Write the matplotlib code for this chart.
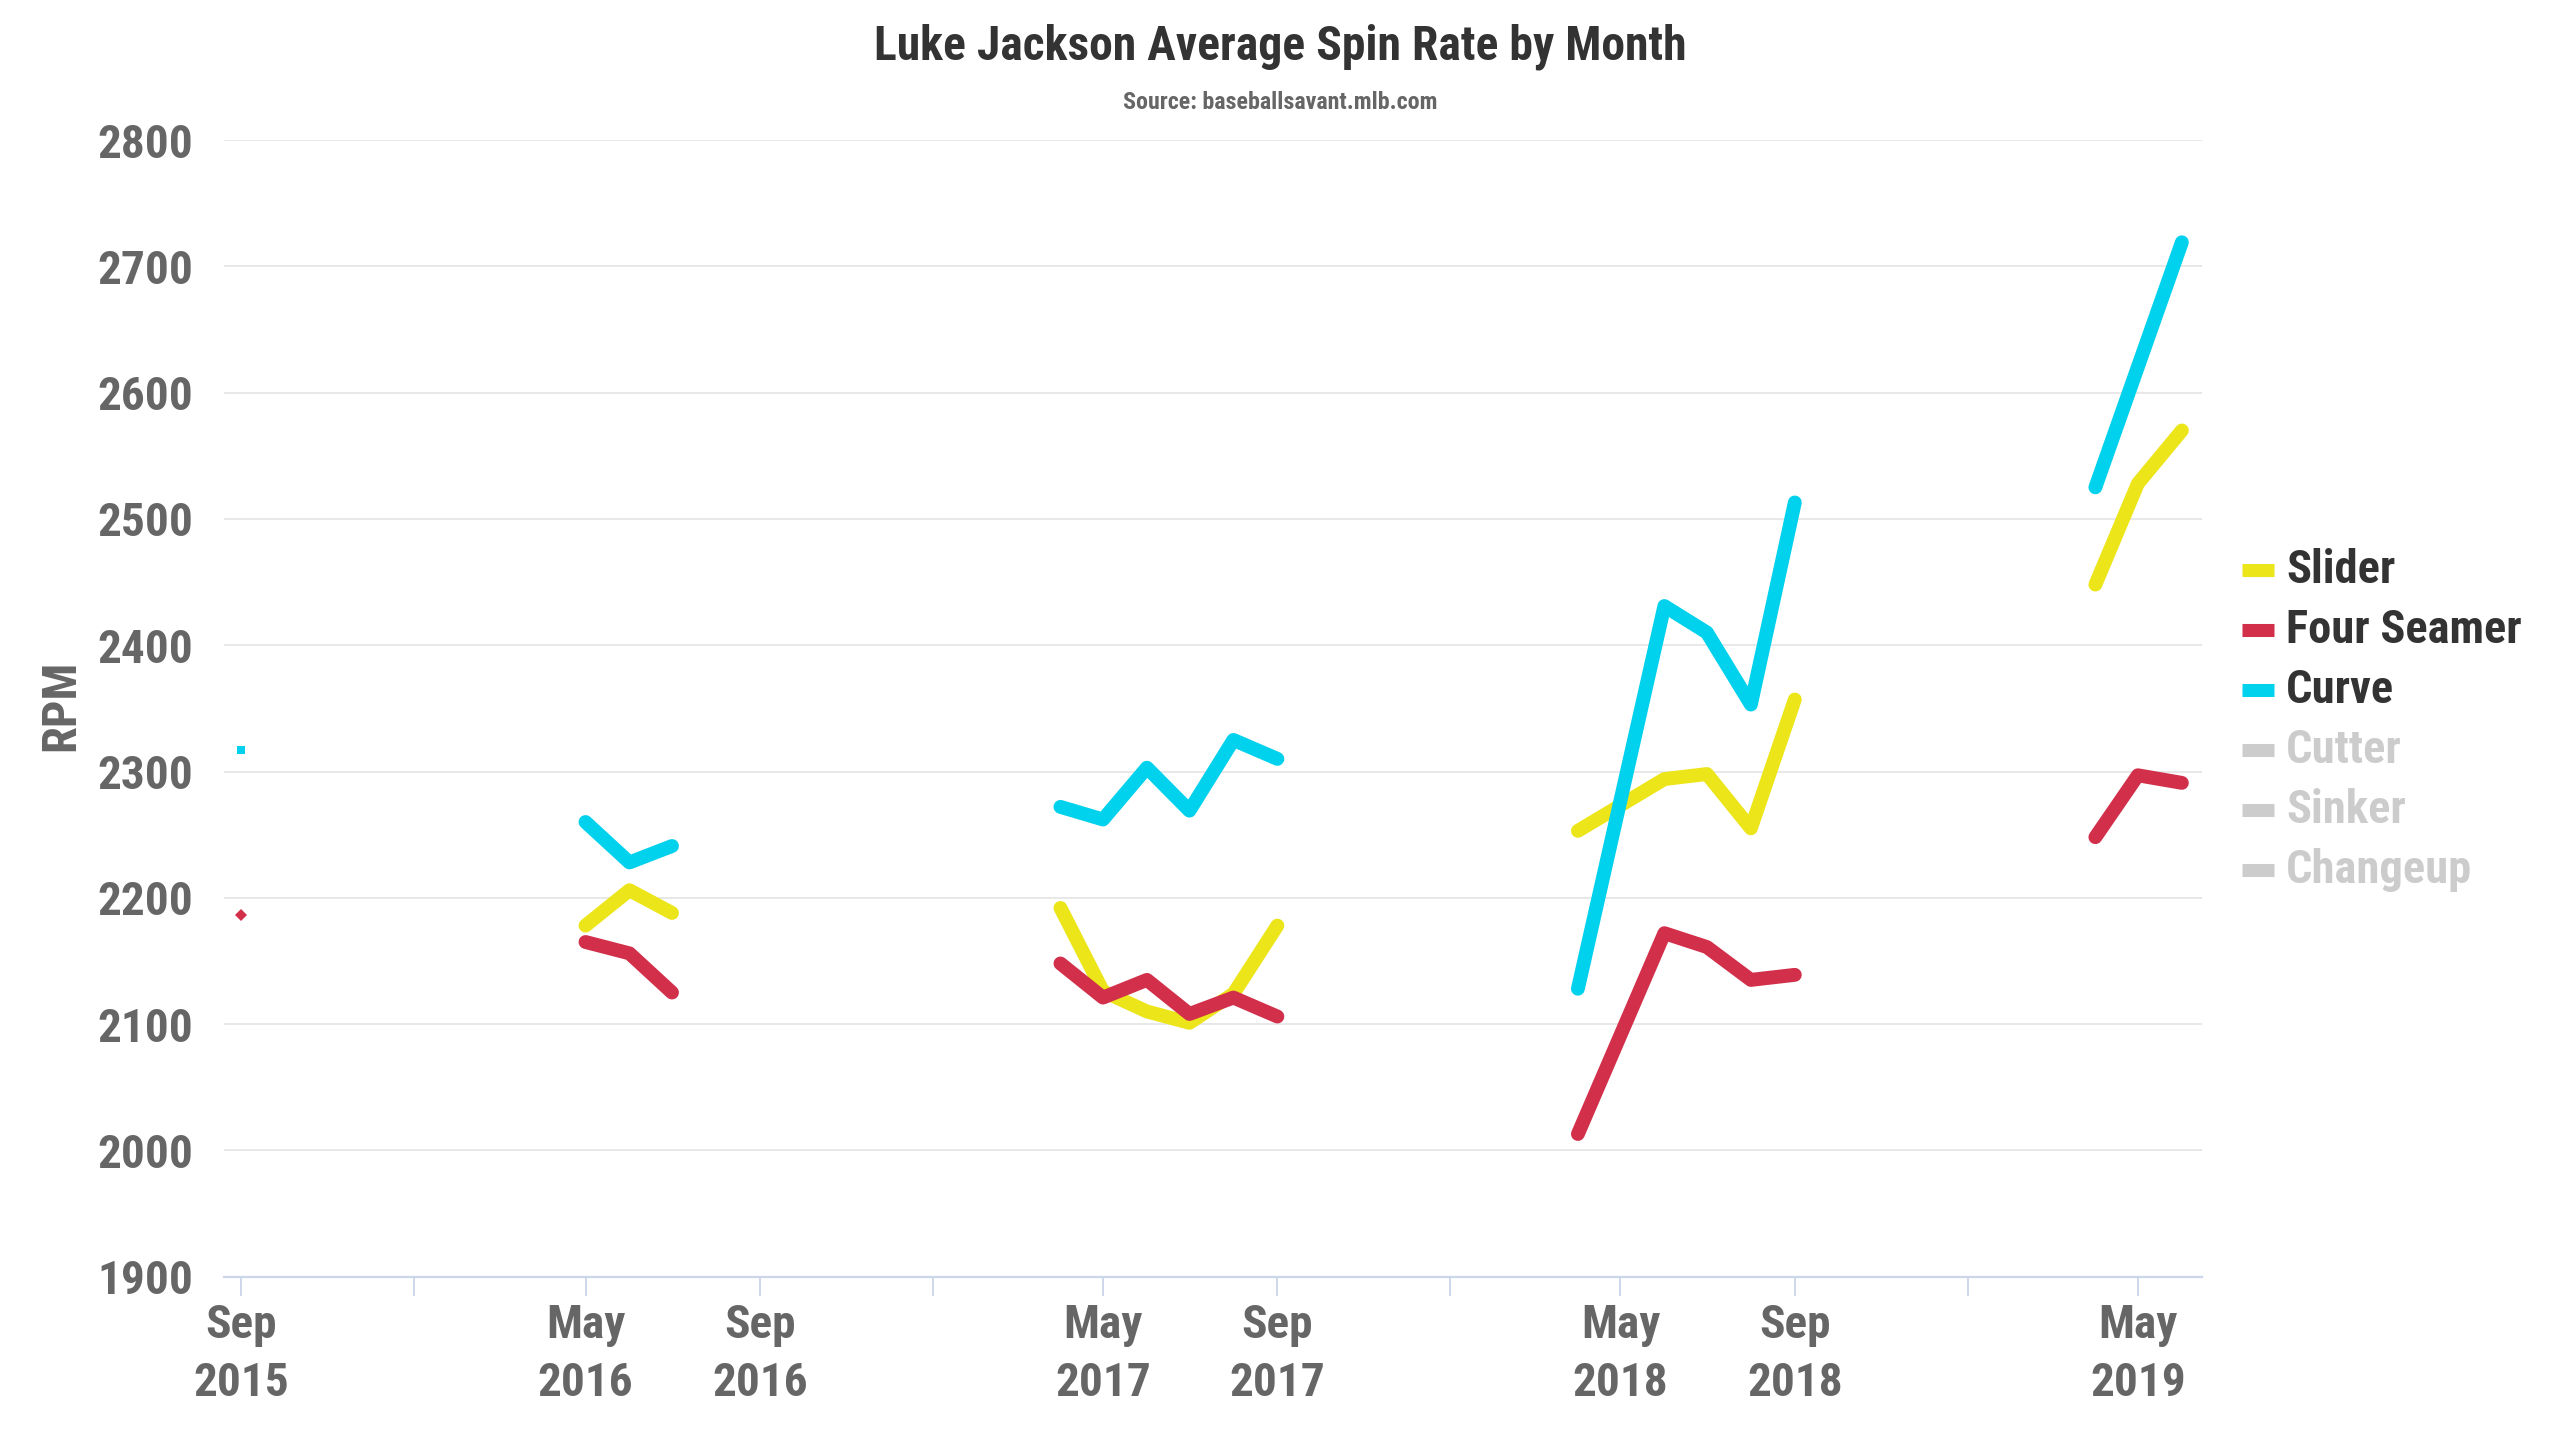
import pandas as pd
import numpy as np
import matplotlib
matplotlib.use("Agg")
import matplotlib.pyplot as plt
from matplotlib.lines import Line2D

# -----------------------------------------------
# Luke Jackson average spin rate by month
# -----------------------------------------------

curve_months = ["2015-09",
                "2016-05", "2016-06", "2016-07",
                "2017-04", "2017-05", "2017-06", "2017-07", "2017-08", "2017-09",
                "2018-04", "2018-06", "2018-07", "2018-08", "2018-09",
                "2019-04", "2019-06"]
curve_rpm = [2317,
             2260, 2228, 2241,
             2272, 2262, 2303, 2269, 2325, 2310,
             2128, 2431, 2410, 2353, 2513,
             2525, 2719]

slider_months = ["2016-05", "2016-06", "2016-07",
                 "2017-04", "2017-05", "2017-06", "2017-07", "2017-08", "2017-09",
                 "2018-04", "2018-06", "2018-07", "2018-08", "2018-09",
                 "2019-04", "2019-05", "2019-06"]
slider_rpm = [2178, 2206, 2188,
              2192, 2126, 2110, 2101, 2124, 2178,
              2253, 2294, 2298, 2255, 2357,
              2448, 2528, 2570]

four_months = ["2015-09",
               "2016-05", "2016-06", "2016-07",
               "2017-04", "2017-05", "2017-06", "2017-07", "2017-08", "2017-09",
               "2018-04", "2018-06", "2018-07", "2018-08", "2018-09",
               "2019-04", "2019-05", "2019-06"]
four_rpm = [2186,
            2165, 2156, 2125,
            2148, 2121, 2135, 2108, 2121, 2106,
            2013, 2172, 2161, 2135, 2139,
            2248, 2297, 2291]

legend_names = ["Slider", "Four Seamer", "Curve", "Cutter", "Sinker", "Changeup"]

colors = {"Slider": "#ebe51a", "Four Seamer": "#d22f4b", "Curve": "#00d1ec"}
markers = {"Slider": "o", "Four Seamer": "D", "Curve": "s"}

series = [("Slider", slider_months, slider_rpm),
          ("Four Seamer", four_months, four_rpm),
          ("Curve", curve_months, curve_rpm)]

FONT = ["Roboto Condensed", "Roboto", "DejaVu Sans"]
plt.rcParams["font.family"] = FONT

W, H = 2560, 1440
fig = plt.figure(figsize=(W / 100, H / 100), dpi=100)
ax = fig.add_axes([224 / W, 1 - 1276.7 / H, (2201.7 - 224) / W, (1276.7 - 140) / H])

for name, months, rpm in series:
    dates = pd.to_datetime(months)
    s = pd.Series(rpm, index=dates, dtype=float)
    # split into seasons: a gap of more than 3 months breaks the line
    gaps = np.diff(dates.values).astype("timedelta64[D]").astype(int) > 95
    seg_id = np.concatenate([[0], np.cumsum(gaps)])
    for k in np.unique(seg_id):
        part = s[seg_id == k]
        if len(part) == 1:
            ax.plot(part.index, part.values, linestyle="none",
                    marker=markers[name], markersize=5.8, color=colors[name],
                    markeredgewidth=0, zorder=3)
        else:
            ax.plot(part.index, part.values, color=colors[name], linewidth=10,
                    solid_capstyle="round", solid_joinstyle="round", zorder=3)

ax.set_ylim(1900, 2800)
ax.set_yticks(range(1900, 2801, 100))
ax.set_xlim(pd.Timestamp("2015-08-20"), pd.Timestamp("2019-06-15"))

ticks = pd.date_range("2015-09-01", "2019-05-01", freq="4MS")
ax.set_xticks(ticks)
ax.set_xticklabels(["" if t.month == 1 else t.strftime("%b\n%Y") for t in ticks])

ax.grid(axis="y", color="#e6e6e6", linewidth=1.3)
ax.set_axisbelow(True)
for side in ["top", "right", "left"]:
    ax.spines[side].set_visible(False)
ax.spines["bottom"].set_color("#ccd6eb")
ax.spines["bottom"].set_linewidth(1.6)

ax.tick_params(axis="x", length=13.7, width=1.3, color="#ccd6eb", pad=5,
               labelsize=34, labelcolor="#666666")
ax.tick_params(axis="y", length=0, pad=22, labelsize=34, labelcolor="#666666")
for lab in ax.get_xticklabels() + ax.get_yticklabels():
    lab.set_fontweight("bold")
for lab in ax.get_xticklabels():
    lab.set_linespacing(1.4)

fig.text(61 / W, 0.51, "RPM", rotation=90, ha="center", va="center",
         fontsize=35, fontweight="bold", color="#666666")

fig.text(0.5, 1 - 60 / H, "Luke Jackson Average Spin Rate by Month", ha="center",
         va="baseline", fontsize=34.3, fontweight="bold", color="#333333")
fig.text(0.5, 1 - 109 / H, "Source: baseballsavant.mlb.com", ha="center",
         va="baseline", fontsize=17.3, fontweight="bold", color="#666666")

# legend drawn by hand: symbol bar + label, hidden series greyed out
for i, name in enumerate(legend_names):
    base = 583.3 + 60 * i
    c = colors.get(name, "#cccccc")
    fig.add_artist(Line2D([2242 / W, 2274 / W], [1 - (base - 13) / H] * 2,
                          color=c, linewidth=9.4, solid_capstyle="butt"))
    fig.text(2286 / W, 1 - base / H, name, ha="left", va="baseline",
             fontsize=33.5, fontweight="bold",
             color="#333333" if name in colors else "#cccccc")

fig.savefig("out.png", dpi=100)
